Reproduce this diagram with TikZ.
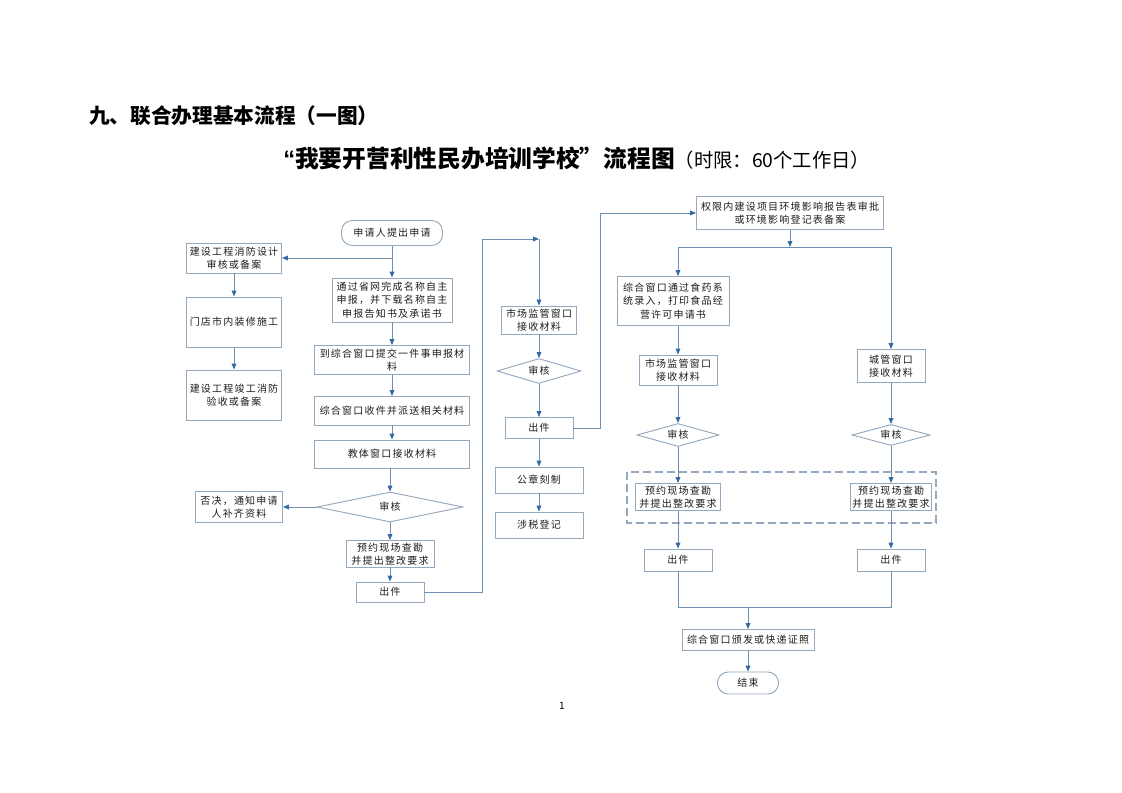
\documentclass[tikz,border=0pt]{standalone}
\usepackage{fontspec}
\newfontfamily\cjk{Noto Sans CJK SC}
\newfontfamily\qfont{Liberation Sans}
\newfontfamily\cjkbox[LetterSpace=12]{Noto Sans CJK SC}
\usetikzlibrary{arrows.meta,shapes.geometric}
\definecolor{lineblue}{RGB}{112,142,176}
\definecolor{boxline}{RGB}{148,168,190}
\definecolor{arrowblue}{RGB}{55,105,165}
\definecolor{txt}{RGB}{30,30,30}
\newcommand{\boxfont}{\cjkbox\fontsize{7.5}{10}\selectfont}
\tikzset{
  box/.style 2 args={draw=boxline, line width=0.7pt, minimum width=#1*0.75pt, minimum height=#2*0.75pt,
    inner sep=0pt, align=center, font=\boxfont, text=txt},
  term/.style 2 args={box={#1}{#2}, rounded corners=8pt},
  dia/.style 2 args={shape=diamond, draw=boxline, line width=0.7pt, minimum width=#1*0.75pt,
    minimum height=#2*0.75pt, inner sep=0pt},
  diatext/.style={font=\boxfont, text=txt, inner sep=0pt},
  conn/.style={draw=lineblue, line width=0.7pt},
  arr/.style={conn, -{Triangle[length=4.5pt,width=3.6pt,color=arrowblue]}}
}
\begin{document}
\begin{tikzpicture}[x=0.75pt,y=-0.75pt]
\useasboundingbox[fill=white] (0,0) rectangle (1122,793);

% titles
\node[anchor=west, inner sep=0pt, font=\cjk\bfseries\fontsize{15.5}{18}\selectfont] (title) at (89,116) {九、联合办理基本流程（一图）};
\node[anchor=west, inner sep=0pt] (sub) at (283,158) {{\fontsize{17.8}{20}\selectfont{\qfont\bfseries “}{\cjk\bfseries 我要开营利性民办培训学校”流程图}}{\cjk\fontsize{14.5}{16}\selectfont （时限：60个工作日）}};
\node[font=\cjk\fontsize{7.5}{9}\selectfont] (page) at (562,706) {1};

% left column
\node[term={101}{25}] (start) at (392,233) {申请人提出申请};
\node[box={95}{30}] (b1) at (234,258) {建设工程消防设计\\审核或备案};
\node[box={95}{50}] (b2) at (234,322) {门店市内装修施工};
\node[box={95}{50}] (b3) at (234,395) {建设工程竣工消防\\验收或备案};
\node[box={120}{44}] (n1) at (392,300) {通过省网完成名称自主\\申报，并下载名称自主\\申报告知书及承诺书};
\node[box={155}{29}] (n2) at (392,360) {到综合窗口提交一件事申报材\\料};
\node[box={155}{29}] (n3) at (392,411) {综合窗口收件并派送相关材料};
\node[box={155}{28}] (n4) at (392,454) {教体窗口接收材料};
\node[dia={146}{30}] (d1) at (390,507) {};
\node[diatext] (d1t) at (d1) {审核};
\node[box={87}{31}] (rej) at (239,507) {否决，通知申请\\人补齐资料};
\node[box={88}{27}] (p1) at (390,554) {预约现场查勘\\并提出整改要求};
\node[box={68}{20}] (o1) at (390,592) {出件};

% middle column
\node[box={75}{28}] (m1) at (539,320) {市场监管窗口\\接收材料};
\node[dia={84}{25}] (md) at (539,371) {};
\node[diatext] (mdt) at (md) {审核};
\node[box={68}{21}] (mo) at (539,428) {出件};
\node[box={88}{26}] (seal) at (539,480) {公章刻制};
\node[box={88}{26}] (tax) at (539,525) {涉税登记};

% right part
\node[box={187}{33}] (env) at (790,213) {权限内建设项目环境影响报告表审批\\或环境影响登记表备案};
\node[box={112}{49}] (food) at (673,301) {综合窗口通过食药系\\统录入，打印食品经\\营许可申请书};
\node[box={78}{30}] (sm2) at (678,370) {市场监管窗口\\接收材料};
\node[dia={82}{23}] (d2) at (678,435) {};
\node[diatext] (d2t) at (d2) {审核};
\node[box={85}{27}] (pr2) at (678,497) {预约现场查勘\\并提出整改要求};
\node[box={68}{22}] (o2) at (678,560) {出件};
\node[box={68}{33}] (cg) at (891,366) {城管窗口\\接收材料};
\node[dia={78}{21}] (d3) at (891,435) {};
\node[diatext] (d3t) at (d3) {审核};
\node[box={81}{27}] (pr3) at (891,497) {预约现场查勘\\并提出整改要求};
\node[box={68}{22}] (o3) at (891,560) {出件};
\node[box={132}{21}] (fin) at (748,640) {综合窗口颁发或快递证照};
\node[term={61}{22}] (end) at (748,683) {结束};

\draw[boxline, line width=0.8pt, dash pattern=on 6pt off 3pt] (627,472) rectangle (936,523);

% coordinates
\coordinate (j1) at (392,258);
\coordinate (c1) at (482,592);
\coordinate (c2) at (482,239);
\coordinate (c3) at (539,239);
\coordinate (c4) at (600,428);
\coordinate (c5) at (600,213);
\coordinate (j2) at (790,247);
\coordinate (j2l) at (678,247);
\coordinate (j2r) at (891,247);
\coordinate (j3l) at (678,607);
\coordinate (j3r) at (891,607);
\coordinate (j3) at (748,607);

% left connectors
\draw[conn] (start.south) -- (j1);
\draw[arr] (j1) -- (b1.east);
\draw[arr] (j1) -- (n1.north);
\draw[arr] (b1) -- (b2);
\draw[arr] (b2) -- (b3);
\draw[arr] (n1) -- (n2);
\draw[arr] (n2) -- (n3);
\draw[arr] (n3) -- (n4);
\draw[arr] (n4.south -| d1.north) -- (d1.north);
\draw[arr] (d1.west) -- (rej.east);
\draw[arr] (d1.south) -- (p1.north);
\draw[arr] (p1) -- (o1);
\draw[arr] (o1.east) -- (c1) -- (c2) -- (c3);
\draw[arr] (c3) -- (m1.north);

% middle connectors
\draw[arr] (m1) -- (md);
\draw[arr] (md) -- (mo);
\draw[arr] (mo) -- (seal);
\draw[arr] (seal) -- (tax);
\draw[arr] (mo.east) -- (c4) -- (c5) -- (env.west);

% right connectors
\draw[arr] (env.south -| j2) -- (j2);
\draw[conn] (j2l) -- (j2r);
\draw[arr] (j2l) -- (j2l |- food.north);
\draw[arr] (j2r) -- (cg.north);
\draw[arr] (j2l |- food.south) -- (sm2.north);
\draw[arr] (sm2) -- (d2);
\draw[arr] (d2) -- (pr2);
\draw[arr] (pr2) -- (o2);
\draw[arr] (cg) -- (d3);
\draw[arr] (d3) -- (pr3);
\draw[arr] (pr3) -- (o3);
\draw[conn] (o2.south) -- (j3l) -- (j3r) -- (o3.south);
\draw[arr] (j3) -- (fin.north);
\draw[arr] (fin) -- (end);
\end{tikzpicture}
\end{document}
